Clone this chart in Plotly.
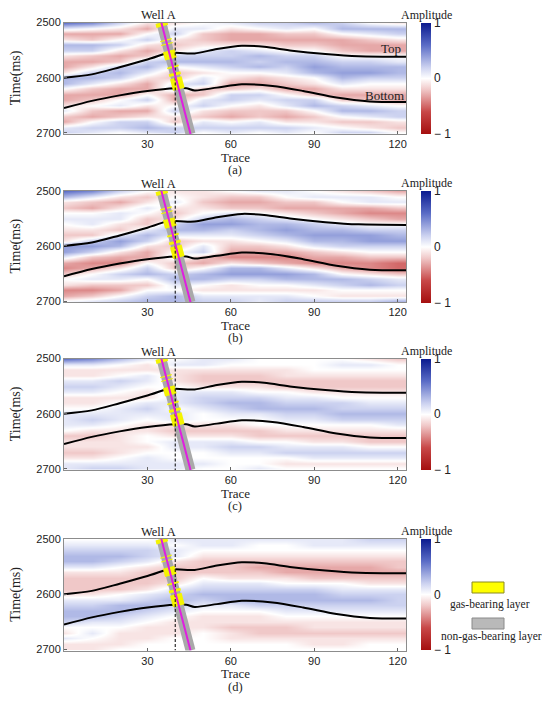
import numpy as np
import plotly.graph_objects as go

# trace positions and two-way times of the amplitude grid
traces = [0, 10, 20, 30, 40, 50, 60, 70, 80, 90, 100, 110, 120]
times = [2500, 2510, 2520, 2530, 2540, 2550, 2560, 2570, 2580, 2590, 2600,
         2610, 2620, 2630, 2640, 2650, 2660, 2670, 2680, 2690, 2700]

# amplitude in tenths, one list per trace (top -> bottom)
amp_a = [
    [6, 1, -3, -1, 3, 2, -1, -3, -3, -1, 3, 3, 0, -3, -3, -1, 1, -2, -3, 1, 2],
    [5, 0, -3, -2, 3, 2, -2, -3, -1, 2, 3, 1, -2, -3, -2, 0, -2, -3, 0, 2, 1],
    [2, -1, -3, 0, 2, -1, -3, -2, 2, 3, 2, -1, -3, -3, 0, 1, -3, -2, 2, 2, 0],
    [-1, -3, 0, 2, -1, -3, -2, 2, 3, 1, -1, -3, -3, 0, 2, -1, -3, -1, 2, 3, 1],
    [-1, 1, 2, -1, -2, -1, 2, 3, 0, -2, -2, 1, 2, -3, -3, 0, 2, -1, -2, 2, 2],
    [0, 1, -2, -2, -1, 1, 2, 3, 1, -1, 1, 2, -2, -2, 1, 2, -1, -2, 1, 2, 0],
    [1, -1, -3, -3, -1, 2, 2, 3, 2, 0, -1, -3, -2, 2, 2, 0, -2, -3, 0, 2, 1],
    [2, 0, -3, -3, -1, 1, 3, 2, 3, 0, -2, -3, -1, 2, 1, -1, -2, -2, 1, 2, 0],
    [2, 1, -2, -3, -2, 0, 2, 3, 2, 1, -1, -2, -3, 0, 2, 1, -2, -3, -1, 2, 1],
    [3, 0, -2, -3, -2, 0, 2, 3, 4, 3, 0, -1, -3, -2, 2, 3, 0, -2, -1, 1, 0],
    [2, 3, 0, -3, -3, -2, 0, 2, 3, 4, 3, 1, -1, -3, -2, 2, 3, 0, -2, 0, 2],
    [0, 3, 1, -2, -3, -3, 0, 2, 3, 4, 2, 0, -1, -3, -2, 1, 3, 1, -2, -1, 2],
    [-1, 3, 2, -1, -3, -3, 0, 1, 3, 3, 2, 0, -1, -3, -3, 0, 2, 2, -1, -2, 0],
]
amp_b = [
    [6, 3, -1, -2, 0, 1, 0, -1, -2, -1, 4, 4, 1, -3, -4, -2, 0, -1, -4, -3, 0],
    [5, 1, -2, -3, 0, 1, 1, -1, -2, 2, 4, 2, -2, -4, -3, 0, 1, -2, -4, -2, 1],
    [2, -1, -3, -1, 1, 1, -1, -2, 1, 4, 3, -1, -3, -4, -1, 2, 1, -2, -3, 0, 2],
    [0, -2, -1, 1, 0, -2, -2, 1, 3, 2, -1, -3, -3, 0, 2, 3, 0, -2, 0, 2, 3],
    [-1, 0, 1, -1, -2, -1, 2, 3, 1, -2, -2, 0, 1, -2, -2, 2, 3, 1, 0, 3, 3],
    [-1, -1, -2, -1, 0, 2, 4, 3, 1, -1, 1, 2, -2, -3, 0, 3, 3, 0, -1, 1, 2],
    [0, -2, -3, -2, 1, 3, 4, 2, 1, -1, -2, -3, -4, -1, 3, 4, 2, -1, -1, 1, 2],
    [1, -2, -3, -2, 0, 2, 3, 3, 2, 0, -2, -3, -4, -2, 3, 4, 2, 0, -1, 1, 1],
    [1, 0, -2, -3, -1, 1, 3, 4, 3, 1, -1, -3, -4, -3, 1, 4, 3, 0, -1, 1, 2],
    [0, 1, -2, -3, -2, 0, 2, 3, 4, 3, 1, -2, -3, -4, -1, 3, 3, 1, -1, 0, 2],
    [-1, 1, 0, -3, -3, -1, 1, 3, 4, 3, 2, -1, -3, -4, -3, 0, 3, 2, 0, -1, 2],
    [-2, 1, 1, -3, -4, -2, 0, 2, 4, 4, 2, 0, -2, -4, -4, -1, 2, 3, 0, -1, 2],
    [-3, 0, 1, -2, -4, -3, 0, 2, 3, 4, 2, 0, -2, -5, -5, -2, 1, 2, 0, -1, 3],
]
amp_c = [
    [6, 1, -1, -1, 1, 2, 1, -1, -1, 0, 1, 1, 1, 0, -2, -1, -1, -2, -1, 1, 1],
    [5, 1, -1, -1, 1, 2, 1, -1, -1, 0, 1, 2, 1, -1, -2, -1, -1, -2, -1, 1, 2],
    [3, 0, -1, 0, 2, 1, 0, -1, 0, 1, 1, 1, 0, -1, -1, -1, -1, -1, 0, 1, 2],
    [1, -1, -1, 1, 1, 0, -1, -1, 1, 2, 1, 0, -1, -1, 0, 0, -1, 0, 1, 1, 1],
    [0, 1, -1, -1, -1, 0, 1, 1, 1, 0, 1, 1, -1, -2, -1, 1, 1, 0, 0, 1, 1],
    [1, 1, -1, -2, -2, -1, 1, 2, 2, 1, 0, 0, -1, -2, -1, 1, 1, 0, 0, 1, 0],
    [1, 0, -1, -2, -2, -1, 1, 2, 3, 2, 1, 0, -1, -2, -1, 1, 2, 1, 0, 0, 0],
    [0, 0, -1, -2, -2, -1, 0, 2, 3, 3, 1, 0, 0, -2, -2, 0, 2, 1, 0, 0, 1],
    [0, 0, -1, -1, -2, -2, 0, 1, 2, 3, 2, 1, 0, -1, -2, 0, 1, 2, 0, -1, 0],
    [0, 0, 0, -1, -2, -2, -1, 1, 2, 3, 2, 1, 0, -1, -2, -1, 1, 2, 1, -1, 0],
    [0, 1, 0, -1, -2, -2, -1, 0, 2, 2, 3, 2, 0, -1, -2, -1, 1, 2, 1, -1, 0],
    [-1, 1, 0, -1, -2, -2, -1, 0, 1, 2, 3, 2, 0, -1, -2, -2, 0, 2, 1, -1, 0],
    [-2, 0, 0, -1, -2, -2, -1, 0, 1, 2, 3, 2, 1, -1, -2, -2, 0, 2, 1, -1, 0],
]
amp_d = [
    [0, 1, 2, 3, 3, 1, -1, -2, -2, -2, -1, 1, 2, 3, 3, 2, 0, -1, 1, -1, -1],
    [0, 1, 2, 3, 3, 1, -1, -2, -2, -2, -1, 1, 2, 3, 3, 1, 0, 1, 0, -1, -1],
    [0, 1, 2, 3, 2, 0, -1, -2, -2, -2, 0, 1, 3, 3, 2, 1, 0, -1, -1, -1, 0],
    [0, 1, 2, 2, 1, -1, -2, -2, -2, -1, 1, 2, 3, 2, 1, 0, -1, -1, -1, 0, 0],
    [1, 0, 1, 1, -1, -2, -2, -2, -1, 1, 2, 3, 2, 1, 0, -1, -1, -1, 0, 0, 0],
    [1, 1, 0, -1, -2, -2, -2, 0, 1, 2, 3, 2, 1, 0, -1, -1, -1, 0, 0, 0, 0],
    [1, 1, 0, -1, -2, -2, -2, -1, 1, 2, 3, 3, 1, 0, -1, -1, -2, -1, -1, 0, 0],
    [1, 0, 0, -1, -2, -3, -2, -1, 1, 2, 3, 3, 2, 0, -1, -1, -2, -2, -1, 0, 0],
    [1, 0, 0, -1, -2, -3, -3, -1, 0, 2, 3, 3, 2, 1, 0, -1, -2, -2, -1, 0, 0],
    [1, 1, 0, -1, -2, -3, -3, -2, 0, 2, 3, 3, 2, 1, 0, -1, -1, -2, -1, -1, 0],
    [1, 1, 0, -1, -2, -3, -3, -2, 0, 1, 2, 3, 2, 1, 0, -1, -1, -2, -1, -1, 0],
    [2, 1, 0, -1, -2, -3, -3, -2, -1, 1, 2, 3, 2, 1, 0, -1, -1, -2, -1, 0, 0],
    [2, 1, 0, -1, -2, -2, -3, -2, -1, 1, 2, 2, 2, 1, 0, -1, -1, -2, -1, 0, 0],
]

# interpreted horizons (None = break at the well)
top_trace = [0, 10, 20, 30, 36, None, 40, 47, 55, 64, 72, 82, 94, 106, 123]
top_time = [2600, 2594, 2581, 2567, 2557, None, 2555, 2556, 2548, 2542, 2544, 2551, 2557, 2561, 2562]
bot_trace = [0, 10, 20, 30, 40, 44, 47, 55, 64, 75, 86, 98, 110, 123]
bot_time = [2655, 2642, 2632, 2624, 2619, 2619, 2623, 2618, 2612, 2615, 2624, 2636, 2643, 2644]

# deviated well A and its gas-bearing intervals (ms)
well_trace = [35.0, 45.5]
well_time = [2500, 2702]
well_line = 40
gas_top = [2500, 2531, 2538, 2551, 2579, 2591, 2600]
gas_bot = [2507, 2533, 2540, 2566, 2582, 2596, 2621]

panels = [("(a)", amp_a), ("(b)", amp_b), ("(c)", amp_c), ("(d)", amp_d)]

OFF = 8  # default page margin around the figure
W, H = 550 - OFF, 701 - OFF
ML, MR, MT, MB = 42, 52, 4, 32  # fixed margins (pixels)
X0, X1 = 64, 406  # page pixels
panel_tops = [22.5, 190.7, 358.5, 539.0]
PH = 111.5
SERIF = "Liberation Serif"
SANS = "Liberation Sans"


def fx(px):
    return (px - OFF - ML) / (W - ML - MR)


def fy(py):
    return 1 - (py - OFF - MT) / (H - MT - MB)


def note(text, px, py, size=13, **kw):
    # text centred on a pixel position of the page
    return dict(text=text, x=fx(px), y=fy(py), xref="paper", yref="paper",
                xanchor="center", yanchor="middle", showarrow=False,
                font=dict(family=SERIF, size=size, color="#222"), **kw)


cscale = [[0.0, "#a50f0f"], [0.2, "#c84848"], [0.4, "#f0c8c8"], [0.5, "#ffffff"],
          [0.6, "#ccd2f0"], [0.8, "#5a6cc6"], [1.0, "#0a1a8f"]]

gas_x, gas_y = [], []
for t1, t2 in zip(gas_top, gas_bot):
    gas_x += list(np.interp([t1, t2], well_time, well_trace)) + [None]
    gas_y += [t1, t2, None]

fig = go.Figure()
annotations = []
for i, (label, amp) in enumerate(panels):
    n = "" if i == 0 else str(i + 1)
    xa, ya = "x" + n, "y" + n
    ptop = panel_tops[i]
    pbot = ptop + PH
    top = fy(ptop)
    bot = fy(pbot)

    fig.add_trace(go.Heatmap(
        x=traces, y=times, z=np.array(amp).T / 10, zmin=-1, zmax=1,
        zsmooth="best", colorscale=cscale, xaxis=xa, yaxis=ya,
        colorbar=dict(x=fx(421), xanchor="left", y=top, yanchor="top",
                      len=top - bot, thickness=10, xpad=0, ypad=0, outlinewidth=0,
                      tickvals=[-1, 0, 1], ticktext=["\u2212 1", "0", "1"], ticks="",
                      tickfont=dict(family=SANS, size=12, color="#222"))))
    fig.add_trace(go.Scatter(x=top_trace, y=top_time, mode="lines", xaxis=xa, yaxis=ya,
                             line=dict(color="black", width=2, shape="spline", smoothing=0.8)))
    fig.add_trace(go.Scatter(x=bot_trace, y=bot_time, mode="lines", xaxis=xa, yaxis=ya,
                             line=dict(color="black", width=2, shape="spline", smoothing=0.8)))
    fig.add_trace(go.Scatter(x=well_trace, y=well_time, mode="lines", xaxis=xa, yaxis=ya,
                             line=dict(color="#a9a9a9", width=10)))
    fig.add_trace(go.Scatter(x=gas_x, y=gas_y, mode="lines", xaxis=xa, yaxis=ya,
                             line=dict(color="#f4f400", width=12)))
    fig.add_trace(go.Scatter(x=[well_line, well_line], y=[2500, 2702], mode="lines",
                             xaxis=xa, yaxis=ya, line=dict(color="black", width=1, dash="3px,2px")))
    fig.add_trace(go.Scatter(x=well_trace, y=well_time, mode="lines", xaxis=xa, yaxis=ya,
                             line=dict(color="#e01ee0", width=2)))

    ax = dict(domain=[fx(X0), fx(X1)], range=[0, 123], tickvals=[30, 60, 90, 120],
              ticks="inside", ticklen=3, tickcolor="#666", showline=True, mirror=True,
              linecolor="#8c8c8c", linewidth=1, showgrid=False, zeroline=False,
              automargin=False, anchor=ya, tickfont=dict(family=SANS, size=11, color="#222"))
    ay = dict(domain=[bot, top], range=[2702, 2500], tickvals=[2500, 2600, 2700],
              ticks="inside", ticklen=3, tickcolor="#666", showline=True, mirror=True,
              linecolor="#8c8c8c", linewidth=1, showgrid=False, zeroline=False,
              automargin=False, anchor=xa, tickfont=dict(family=SANS, size=11, color="#222"))
    fig.layout["xaxis" + n] = ax
    fig.layout["yaxis" + n] = ay

    annotations += [
        dict(text="Well A", x=34, xref=xa, y=fy(ptop - 7), yref="paper", xanchor="center",
             yanchor="middle", showarrow=False, font=dict(family=SERIF, size=12.5, color="#222")),
        note("Amplitude", 426, ptop - 8, size=12),
        note("Trace", (X0 + X1) / 2, pbot + 23),
        note(label, (X0 + X1) / 2, pbot + 36, size=12.5),
        note("Time(ms)", 16, (ptop + pbot) / 2, size=14, textangle=-90),
    ]

annotations += [
    dict(text="Top", x=122, xref="x", xanchor="right", y=2547, yref="y", yanchor="middle",
         showarrow=False, font=dict(family=SERIF, size=13, color="#222")),
    dict(text="Bottom", x=123, xref="x", xanchor="right", y=2632, yref="y", yanchor="middle",
         showarrow=False, font=dict(family=SERIF, size=13, color="#222")),
    note("gas-bearing layer", 490, 604, size=11.5),
    note("non-gas-bearing layer", 491, 636, size=11.5),
]

shapes = [
    dict(type="rect", xref="paper", yref="paper", x0=fx(472), x1=fx(504),
         y0=fy(593), y1=fy(582), fillcolor="#ffff00", line=dict(color="#8a8a20", width=1)),
    dict(type="rect", xref="paper", yref="paper", x0=fx(472), x1=fx(504),
         y0=fy(629), y1=fy(618), fillcolor="#b9b9b9", line=dict(color="#8a8a8a", width=1)),
]

fig.update_layout(
    width=W, height=H, margin=dict(l=ML, r=MR, t=MT, b=MB, autoexpand=False),
    paper_bgcolor="white", plot_bgcolor="white", showlegend=False,
    annotations=annotations, shapes=shapes,
)

fig.write_html("out.html")
